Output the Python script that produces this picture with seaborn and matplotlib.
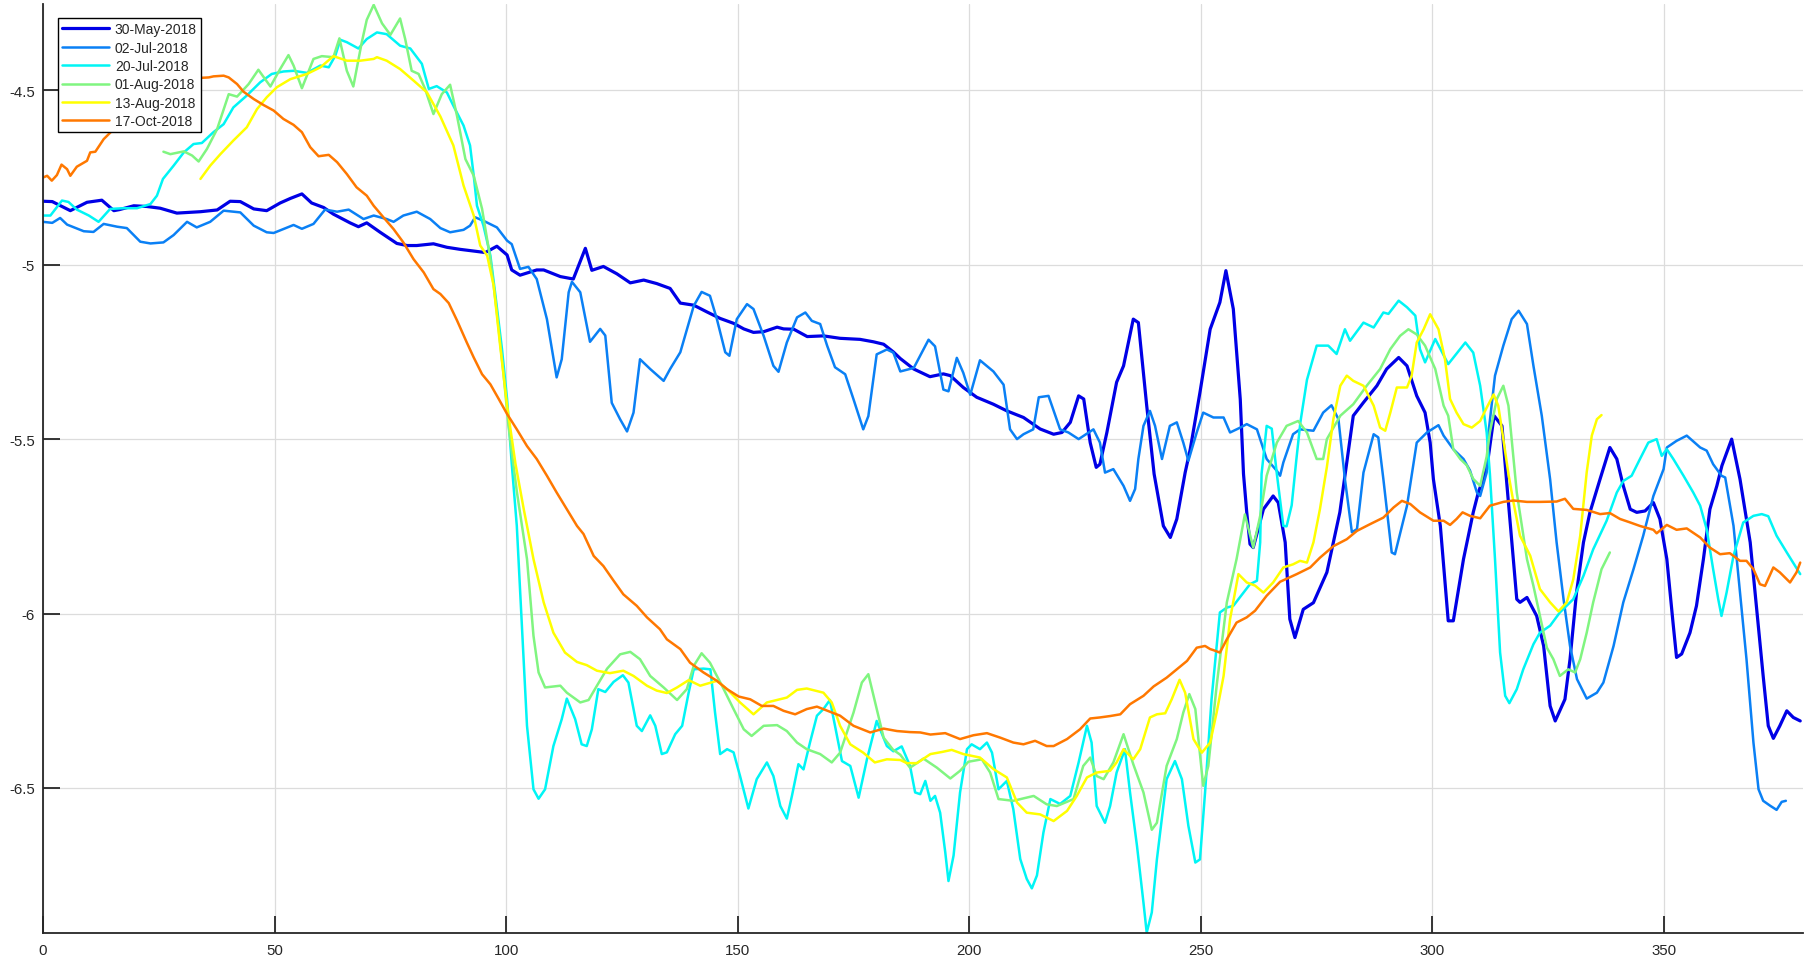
import pandas as pd
import seaborn as sns
import matplotlib.pyplot as plt
from matplotlib.ticker import FuncFormatter

# Series, (x, y) pairs
may30 = [(0,-4.818),(2,-4.819),(5.9,-4.845),(9.5,-4.821),(12.7,-4.815),(15.3,-4.845),(16.5,-4.842),(19.6,-4.831),(22.4,-4.833),(25.3,-4.838),(28.9,-4.852),(34,-4.848),(37.6,-4.843),(40.4,-4.818),(42.6,-4.819),(45.5,-4.840),(48.3,-4.845),(51.2,-4.823),(53.4,-4.81),(55.9,-4.797),(58,-4.823),(60.6,-4.836),(62.7,-4.855),(66.3,-4.88),(68.1,-4.891),(69.9,-4.88),(72.8,-4.907),(76.4,-4.939),(78.6,-4.945),(80.7,-4.945),(84.3,-4.94),(87.2,-4.95),(90.1,-4.956),(94.4,-4.963),(95.5,-4.965),(98,-4.947),(100.2,-4.972),(101.2,-5.015),(103,-5.03),(106.6,-5.015),(108.1,-5.015),(111.7,-5.034),(114.5,-5.041),(117.1,-4.953),(118.5,-5.016),(121,-5.005),(123.9,-5.026),(126.8,-5.052),(129.7,-5.044),(132.5,-5.054),(135.4,-5.068),(137.6,-5.11),(140.5,-5.116),(143.3,-5.135),(146.2,-5.154),(149.1,-5.168),(151.3,-5.184),(153.4,-5.194),(155.6,-5.192),(158.5,-5.179),(159.9,-5.184),(162.1,-5.185),(165,-5.206),(168.5,-5.204),(172.1,-5.211),(176.4,-5.214),(179.3,-5.221),(181.5,-5.228),(183.6,-5.25),(185.1,-5.269),(188,-5.299),(191.5,-5.321),(194.4,-5.313),(195.9,-5.318),(198.7,-5.352),(201.6,-5.38),(205.2,-5.4),(208.1,-5.419),(211.7,-5.438),(215.3,-5.471),(218.2,-5.486),(220,-5.481),(221.8,-5.452),(223.6,-5.376),(224.7,-5.385),(226.1,-5.51),(227.4,-5.581),(228.2,-5.572),(229.7,-5.481),(231.8,-5.337),(233.3,-5.29),(235.4,-5.156),(236.5,-5.166),(238.3,-5.404),(239.9,-5.6),(241.9,-5.749),(243.4,-5.782),(244.8,-5.729),(246.6,-5.596),(247.7,-5.529),(249.8,-5.366),(252,-5.185),(254.1,-5.108),(255.4,-5.017),(257,-5.127),(258.5,-5.386),(259.2,-5.6),(259.9,-5.71),(260.6,-5.801),(261.3,-5.811),(263.5,-5.701),(265.6,-5.663),(266.7,-5.682),(268.2,-5.796),(269.2,-6.016),(270.3,-6.069),(272.1,-5.988),(274.3,-5.969),(277.2,-5.882),(280,-5.71),(282.9,-5.433),(285.1,-5.395),(288,-5.347),(290.1,-5.299),(292.7,-5.266),(294.5,-5.29),(296.6,-5.376),(298.4,-5.424),(299.5,-5.51),(300.2,-5.615),(301.7,-5.749),(303.4,-6.021),(304.5,-6.021),(306.7,-5.844),(308.8,-5.71),(309.9,-5.653),(311.7,-5.586),(313.3,-5.433),(315,-5.462),(316,-5.62),(318.2,-5.959),(318.9,-5.968),(320.4,-5.954),(322.5,-6.007),(324,-6.093),(325.4,-6.265),(326.5,-6.308),(328.6,-6.246),(329.7,-6.131),(331.1,-5.94),(332.6,-5.796),(334,-5.71),(336.2,-5.614),(338.3,-5.524),(339.8,-5.557),(341.2,-5.634),(342.7,-5.701),(344.1,-5.71),(345.9,-5.706),(347.7,-5.682),(349.1,-5.729),(350.6,-5.844),(352,-6.035),(352.7,-6.126),(353.8,-6.116),(355.6,-6.055),(357,-5.978),(358.5,-5.844),(359.9,-5.701),(361.4,-5.634),(362.5,-5.576),(364.6,-5.5),(366.4,-5.615),(368.6,-5.796),(370,-5.988),(371.4,-6.179),(372.5,-6.322),(373.6,-6.358),(375,-6.322),(376.5,-6.279),(377.9,-6.298),(379.4,-6.308)]

jul02 = [(0,-4.877),(2,-4.88),(3.7,-4.866),(5.2,-4.885),(8.8,-4.904),(10.9,-4.906),(13.1,-4.883),(16,-4.891),(18.1,-4.895),(21,-4.934),(23.2,-4.939),(26,-4.936),(28.2,-4.915),(31.1,-4.877),(33.2,-4.893),(36.1,-4.877),(39,-4.845),(42.6,-4.85),(45.5,-4.888),(48.3,-4.907),(49.8,-4.909),(54.1,-4.886),(55.9,-4.897),(58.4,-4.883),(60.9,-4.842),(63.5,-4.848),(66,-4.842),(69.2,-4.869),(71.4,-4.859),(74.2,-4.869),(75.7,-4.877),(77.8,-4.859),(80.7,-4.848),(83.6,-4.869),(85.8,-4.895),(87.9,-4.907),(90.8,-4.9),(92.2,-4.888),(93.3,-4.864),(95.1,-4.874),(98,-4.893),(100.2,-4.931),(101.2,-4.941),(103,-5.012),(104.8,-5.006),(106.6,-5.041),(108.8,-5.156),(110.9,-5.323),(112,-5.271),(113.5,-5.079),(114.2,-5.049),(116,-5.079),(118.1,-5.221),(120.3,-5.184),(121.4,-5.203),(122.8,-5.396),(124.6,-5.443),(126.1,-5.478),(127.5,-5.424),(128.9,-5.271),(131.1,-5.299),(134,-5.333),(135.4,-5.299),(137.6,-5.251),(140.5,-5.118),(142.2,-5.078),(144,-5.089),(145.5,-5.156),(147.3,-5.251),(148.2,-5.261),(149.8,-5.156),(152,-5.113),(153.4,-5.127),(155.6,-5.204),(157.7,-5.29),(158.8,-5.307),(160.6,-5.223),(162.8,-5.151),(164.6,-5.137),(166,-5.161),(167.8,-5.17),(169.3,-5.232),(171,-5.294),(173.2,-5.314),(175,-5.386),(177.1,-5.472),(178.2,-5.434),(180,-5.257),(182.2,-5.243),(183.6,-5.252),(185.1,-5.306),(188,-5.296),(191.2,-5.215),(192.6,-5.234),(194.4,-5.358),(195.5,-5.363),(197.3,-5.267),(198.7,-5.31),(200.2,-5.373),(202.3,-5.274),(205.2,-5.306),(207.4,-5.344),(208.8,-5.472),(210.3,-5.5),(211.7,-5.486),(213.8,-5.472),(215,-5.38),(217.1,-5.376),(219.6,-5.472),(221.4,-5.481),(223.6,-5.5),(226.8,-5.472),(228.2,-5.51),(229.3,-5.596),(231.1,-5.586),(233.3,-5.634),(234.7,-5.677),(235.8,-5.643),(236.5,-5.557),(237.6,-5.462),(239,-5.419),(240.1,-5.462),(241.6,-5.557),(243.3,-5.462),(244.8,-5.452),(246.2,-5.51),(247.3,-5.562),(249.1,-5.481),(250.5,-5.424),(252.7,-5.438),(254.9,-5.438),(256.3,-5.481),(258.5,-5.467),(259.9,-5.457),(262.1,-5.472),(264.2,-5.557),(266.4,-5.591),(267.1,-5.605),(267.8,-5.567),(269.9,-5.486),(271.4,-5.472),(274.3,-5.476),(276.4,-5.424),(278.2,-5.403),(279.7,-5.443),(281.1,-5.615),(282.6,-5.767),(283.7,-5.758),(285.1,-5.596),(285.5,-5.576),(287.3,-5.486),(288.3,-5.495),(289.4,-5.615),(291.2,-5.825),(291.9,-5.83),(294.5,-5.691),(296.6,-5.51),(298.8,-5.481),(301.3,-5.46),(302.4,-5.49),(304.5,-5.529),(306.7,-5.557),(308.1,-5.59),(309.6,-5.653),(310.3,-5.663),(311.7,-5.596),(312.1,-5.481),(313.5,-5.318),(315.3,-5.232),(317.1,-5.156),(318.6,-5.132),(320.4,-5.17),(321.8,-5.29),(323.6,-5.433),(325.4,-5.615),(326.8,-5.796),(328.3,-5.959),(329.7,-6.093),(331.2,-6.188),(333.3,-6.244),(335.5,-6.227),(336.9,-6.198),(339.1,-6.093),(341.2,-5.968),(343.4,-5.873),(345.5,-5.777),(347.7,-5.663),(349.9,-5.586),(350.6,-5.524),(352.7,-5.505),(354.9,-5.49),(357.8,-5.524),(359.2,-5.533),(360.6,-5.572),(362.4,-5.605),(363.2,-5.61),(365,-5.749),(366.4,-5.94),(367.8,-6.131),(369.3,-6.37),(370.4,-6.504),(371.4,-6.537),(372.9,-6.551),(374.3,-6.563),(375.4,-6.54),(376.3,-6.537)]

jul20 = [(0,-4.859),(1.6,-4.859),(4.1,-4.816),(5.5,-4.82),(7.3,-4.842),(9.9,-4.859),(12,-4.877),(14.5,-4.84),(17.4,-4.838),(20.3,-4.838),(23.2,-4.826),(24.6,-4.802),(25.9,-4.754),(28.2,-4.716),(30.4,-4.678),(32.5,-4.654),(34.3,-4.651),(36.8,-4.62),(39,-4.597),(41.1,-4.549),(44,-4.515),(46.9,-4.477),(49.4,-4.453),(51.9,-4.446),(54.1,-4.444),(57,-4.45),(59.9,-4.429),(61.7,-4.434),(63.1,-4.401),(64.2,-4.355),(65.6,-4.362),(68.1,-4.38),(69.9,-4.353),(72.1,-4.334),(74.2,-4.339),(77.1,-4.372),(79.3,-4.38),(81.8,-4.424),(83.3,-4.496),(85,-4.488),(87.2,-4.506),(88.6,-4.544),(90.8,-4.601),(92.2,-4.658),(93,-4.745),(93.7,-4.831),(95.1,-4.888),(96.6,-4.974),(97.6,-5.079),(99.1,-5.242),(100.2,-5.385),(101.2,-5.57),(102.3,-5.749),(103.4,-6.035),(104.5,-6.322),(105.9,-6.504),(107,-6.531),(108.4,-6.504),(110.2,-6.38),(112,-6.303),(113.1,-6.244),(114.9,-6.303),(116.3,-6.375),(117.4,-6.38),(118.5,-6.332),(119.9,-6.217),(121.4,-6.225),(123.2,-6.196),(125.2,-6.177),(126.4,-6.198),(128.2,-6.322),(129.3,-6.337),(131.1,-6.292),(132.2,-6.322),(133.6,-6.403),(134.7,-6.398),(136.5,-6.346),(138,-6.322),(139.4,-6.227),(140.5,-6.16),(142.6,-6.158),(144.1,-6.16),(145.1,-6.284),(146.2,-6.403),(147.7,-6.389),(149.1,-6.398),(150.5,-6.466),(152.3,-6.559),(154.1,-6.475),(156.3,-6.427),(157.7,-6.466),(159.2,-6.552),(160.6,-6.588),(161.7,-6.523),(163.1,-6.432),(164.2,-6.447),(165.6,-6.37),(167.1,-6.293),(168.5,-6.274),(169.9,-6.248),(171,-6.322),(172.5,-6.423),(174.3,-6.437),(176.1,-6.528),(177.9,-6.418),(180,-6.308),(182.2,-6.38),(183.6,-6.395),(185.4,-6.381),(187.2,-6.437),(188.3,-6.513),(189.4,-6.518),(190.5,-6.48),(191.6,-6.537),(192.6,-6.523),(193.7,-6.571),(194.8,-6.684),(195.5,-6.767),(196.6,-6.694),(198,-6.513),(199.5,-6.389),(200.5,-6.375),(202.3,-6.389),(203.8,-6.37),(204.9,-6.399),(206.3,-6.504),(208.1,-6.48),(209.5,-6.561),(211,-6.704),(212.4,-6.761),(213.5,-6.788),(214.6,-6.751),(216,-6.628),(217.5,-6.532),(219.6,-6.546),(221.8,-6.523),(223.6,-6.427),(225.4,-6.322),(226.4,-6.37),(227.5,-6.552),(229.3,-6.6),(230.4,-6.552),(231.8,-6.456),(233.6,-6.389),(234.7,-6.513),(236.2,-6.666),(237.6,-6.829),(238.3,-6.915),(239.4,-6.857),(240.5,-6.705),(242.6,-6.475),(244.4,-6.423),(245.9,-6.475),(247.3,-6.609),(248.8,-6.714),(249.8,-6.705),(250.9,-6.513),(252.3,-6.246),(254.1,-5.997),(255.6,-5.983),(257,-5.978),(259.2,-5.94),(260.6,-5.916),(262.1,-5.906),(262.8,-5.796),(263.1,-5.6),(264.2,-5.462),(265.3,-5.47),(266.4,-5.6),(267.8,-5.749),(268.5,-5.75),(269.6,-5.69),(270.6,-5.56),(271.5,-5.45),(272.9,-5.33),(275,-5.232),(277.5,-5.232),(279.3,-5.256),(281.1,-5.185),(282.2,-5.218),(285.1,-5.166),(287.3,-5.18),(289.4,-5.137),(290.5,-5.141),(292.7,-5.103),(294.5,-5.122),(296.3,-5.146),(297.3,-5.242),(298.4,-5.28),(300.6,-5.213),(303.4,-5.285),(307.1,-5.223),(308.8,-5.252),(310.3,-5.347),(311.7,-5.481),(312.4,-5.6),(313.5,-5.844),(314.6,-6.112),(315.7,-6.236),(316.6,-6.257),(318.2,-6.217),(319.6,-6.16),(321.8,-6.088),(323.2,-6.055),(325.4,-6.035),(327.5,-5.997),(330.4,-5.959),(332.6,-5.892),(334.7,-5.816),(337.6,-5.734),(339.8,-5.653),(341.2,-5.62),(343,-5.605),(344.8,-5.557),(346.6,-5.51),(348.4,-5.5),(349.5,-5.548),(350.6,-5.529),(352,-5.557),(354.2,-5.605),(356.3,-5.653),(357.8,-5.691),(359.2,-5.758),(360.6,-5.873),(361.7,-5.959),(362.4,-6.007),(363.5,-5.94),(365,-5.834),(367.1,-5.739),(369.3,-5.72),(371.1,-5.715),(372.5,-5.721),(374.3,-5.777),(376.5,-5.825),(379.4,-5.887)]

aug01 = [(26,-4.676),(27.5,-4.683),(30.4,-4.675),(32.2,-4.687),(33.6,-4.704),(35.4,-4.668),(37.6,-4.611),(40.1,-4.511),(41.9,-4.518),(44.4,-4.482),(46.5,-4.441),(49.1,-4.489),(51.2,-4.439),(53,-4.399),(54.1,-4.429),(55.9,-4.494),(58.4,-4.41),(60.2,-4.402),(62.7,-4.405),(64,-4.351),(65.6,-4.444),(67,-4.489),(68.8,-4.364),(69.9,-4.298),(71.4,-4.255),(73.2,-4.308),(75,-4.341),(77.1,-4.294),(78.2,-4.353),(79.6,-4.444),(81.1,-4.453),(82.5,-4.496),(84.3,-4.568),(86.1,-4.511),(87.9,-4.484),(89.4,-4.574),(91.2,-4.697),(93,-4.745),(94.8,-4.84),(96.6,-4.984),(98,-5.137),(99.4,-5.309),(100.5,-5.462),(102.3,-5.65),(104.5,-5.844),(105.9,-6.064),(107,-6.169),(108.4,-6.212),(111.7,-6.207),(113.1,-6.227),(116,-6.255),(117.8,-6.248),(119.6,-6.207),(121.8,-6.158),(124.6,-6.117),(126.8,-6.11),(128.9,-6.131),(131.1,-6.179),(134,-6.212),(136.9,-6.248),(139,-6.217),(140.5,-6.15),(142.2,-6.114),(144,-6.141),(146.6,-6.207),(149.1,-6.274),(151.3,-6.332),(153,-6.351),(155.6,-6.322),(158.5,-6.32),(160.6,-6.337),(162.8,-6.37),(164.9,-6.389),(167.8,-6.403),(170.3,-6.427),(172.1,-6.399),(175,-6.284),(176.8,-6.198),(178.2,-6.174),(180,-6.274),(181.5,-6.356),(183.5,-6.39),(185.1,-6.405),(187.2,-6.442),(190.1,-6.416),(193,-6.442),(195.9,-6.473),(198,-6.451),(199.8,-6.425),(202.7,-6.418),(204.5,-6.456),(206.3,-6.532),(209.5,-6.537),(213.9,-6.523),(216.7,-6.547),(218.9,-6.552),(222.5,-6.532),(224.6,-6.437),(226.1,-6.413),(227.5,-6.466),(229,-6.475),(231.1,-6.427),(233.3,-6.346),(235.4,-6.432),(237.6,-6.513),(239.4,-6.62),(240.5,-6.6),(242.6,-6.437),(244.8,-6.36),(246.2,-6.284),(247.5,-6.231),(248.8,-6.274),(250.5,-6.494),(251.6,-6.437),(253.4,-6.207),(255.6,-5.968),(257.7,-5.844),(259.5,-5.716),(261.3,-5.811),(262.8,-5.72),(264.2,-5.605),(266.4,-5.51),(268.5,-5.462),(271,-5.448),(272.9,-5.481),(275,-5.557),(276.4,-5.557),(277.2,-5.5),(280.1,-5.433),(282.9,-5.4),(285.8,-5.347),(288.7,-5.299),(290.9,-5.242),(293,-5.204),(294.8,-5.185),(296.6,-5.2),(298.4,-5.232),(300.6,-5.299),(302.4,-5.404),(303.4,-5.433),(304.5,-5.529),(306,-5.557),(307.4,-5.575),(308.8,-5.614),(310.3,-5.634),(311.7,-5.55),(312.4,-5.48),(313.9,-5.385),(315.3,-5.347),(316.4,-5.404),(317.5,-5.557),(318.2,-5.653),(320.4,-5.844),(321.8,-5.921),(323.2,-6.007),(324.7,-6.098),(326.1,-6.131),(327.5,-6.179),(329.3,-6.16),(330.8,-6.169),(331.9,-6.131),(333.3,-6.055),(334.7,-5.968),(336.5,-5.873),(338.3,-5.825)]

aug13 = [(34,-4.754),(36.1,-4.716),(38.3,-4.683),(41.1,-4.644),(44,-4.606),(46.2,-4.554),(48.3,-4.52),(50.5,-4.491),(53.4,-4.468),(57,-4.453),(59.9,-4.434),(62.7,-4.402),(65.6,-4.415),(68.5,-4.415),(71.4,-4.41),(72.1,-4.405),(74.2,-4.415),(77.1,-4.439),(80,-4.472),(82.9,-4.506),(85.8,-4.575),(88.6,-4.658),(90.8,-4.773),(93,-4.859),(94.4,-4.945),(95.9,-4.974),(97.3,-5.06),(98.7,-5.232),(100.2,-5.404),(102,-5.57),(103.8,-5.701),(105.9,-5.844),(108.1,-5.968),(110.2,-6.055),(112.7,-6.112),(115.3,-6.139),(117.4,-6.148),(119.6,-6.164),(122.4,-6.171),(125.3,-6.164),(127.5,-6.179),(130.4,-6.207),(132.5,-6.221),(134.7,-6.228),(136.9,-6.212),(139.4,-6.191),(141.9,-6.207),(145.5,-6.193),(147.7,-6.217),(150.5,-6.255),(153.4,-6.289),(156.3,-6.255),(160.6,-6.241),(162.8,-6.219),(164.9,-6.215),(168.5,-6.227),(170.3,-6.255),(172.1,-6.322),(174.3,-6.375),(177.1,-6.399),(179.6,-6.427),(182.2,-6.418),(185.1,-6.42),(186.5,-6.429),(188.7,-6.429),(191.6,-6.403),(194.1,-6.397),(196.2,-6.391),(198.7,-6.403),(202.3,-6.413),(205.2,-6.446),(208.1,-6.47),(210.3,-6.542),(212.4,-6.571),(215.3,-6.576),(218.2,-6.595),(221.1,-6.566),(223.2,-6.523),(225.4,-6.47),(227.5,-6.456),(230.4,-6.451),(231.8,-6.427),(233.3,-6.389),(235.4,-6.418),(236.9,-6.389),(239,-6.298),(240.5,-6.289),(242.3,-6.286),(243.7,-6.246),(245.4,-6.19),(246.6,-6.227),(248.4,-6.36),(250.2,-6.399),(252,-6.37),(253.4,-6.284),(254.9,-6.179),(256.3,-6.016),(258.1,-5.887),(259.9,-5.911),(261.7,-5.92),(263.5,-5.94),(265.6,-5.911),(267.8,-5.868),(269.9,-5.859),(271.4,-5.849),(272.9,-5.854),(274.3,-5.796),(275.7,-5.701),(277.2,-5.58),(278.6,-5.443),(280.1,-5.347),(281.5,-5.318),(282.9,-5.333),(285.1,-5.347),(287.3,-5.404),(288.7,-5.467),(289.8,-5.476),(290.9,-5.424),(292.3,-5.352),(294.5,-5.352),(295.5,-5.318),(296.6,-5.223),(298.1,-5.185),(299.5,-5.142),(301.3,-5.185),(302.7,-5.271),(303.8,-5.385),(305.2,-5.424),(306.7,-5.457),(308.5,-5.467),(310.3,-5.448),(311.7,-5.41),(313.2,-5.372),(314.2,-5.404),(315.3,-5.5),(316.4,-5.6),(317.5,-5.682),(318.9,-5.777),(321.1,-5.834),(323.2,-5.93),(325.4,-5.968),(327.2,-5.994),(329,-5.968),(330.4,-5.902),(331.9,-5.777),(333.3,-5.595),(334.4,-5.49),(335.5,-5.443),(336.5,-5.431)]

oct17 = [(0,-4.75),(0.9,-4.745),(1.9,-4.759),(3,-4.743),(4,-4.713),(5.2,-4.726),(5.9,-4.745),(7.3,-4.719),(9.5,-4.702),(10.2,-4.678),(11.3,-4.676),(13.1,-4.64),(15.3,-4.611),(18,-4.58),(22,-4.54),(26,-4.505),(30,-4.475),(33,-4.465),(35.8,-4.463),(36.8,-4.46),(39,-4.458),(40.1,-4.463),(41.9,-4.482),(43.3,-4.504),(45.5,-4.525),(47.6,-4.542),(49.8,-4.558),(51.9,-4.582),(54.1,-4.599),(55.9,-4.62),(57.7,-4.663),(59.5,-4.689),(61.7,-4.685),(63.5,-4.706),(65.6,-4.74),(67.7,-4.778),(69.9,-4.802),(71.4,-4.831),(73.5,-4.864),(75.7,-4.898),(77.8,-4.936),(80,-4.984),(82.2,-5.022),(84.3,-5.07),(85.8,-5.084),(87.6,-5.11),(89.4,-5.16),(91.5,-5.223),(93,-5.266),(94.8,-5.314),(96.6,-5.343),(98.4,-5.385),(100.2,-5.428),(102.3,-5.472),(104.5,-5.52),(106.6,-5.557),(108.8,-5.605),(110.9,-5.653),(113.5,-5.71),(115.3,-5.749),(116.7,-5.772),(118.9,-5.835),(121,-5.864),(123.2,-5.906),(125.3,-5.945),(128.2,-5.978),(130.4,-6.011),(133.2,-6.045),(134.7,-6.074),(137.6,-6.102),(139.7,-6.141),(142.6,-6.169),(145.5,-6.193),(147.7,-6.217),(150.2,-6.238),(152.7,-6.246),(155.2,-6.265),(157.7,-6.265),(159.9,-6.279),(162.4,-6.289),(164.9,-6.274),(167.1,-6.267),(170,-6.282),(172.1,-6.293),(175,-6.322),(178.6,-6.341),(181.5,-6.33),(184.4,-6.337),(187.2,-6.34),(189.4,-6.341),(191.6,-6.347),(194.8,-6.343),(198,-6.36),(200.9,-6.349),(203.8,-6.343),(206.7,-6.356),(209.5,-6.37),(211.7,-6.375),(214.2,-6.365),(216.7,-6.38),(218.2,-6.38),(221.1,-6.36),(223.9,-6.332),(226.1,-6.301),(228.2,-6.298),(230.4,-6.294),(232.6,-6.289),(234.7,-6.26),(237.6,-6.236),(239.8,-6.209),(242.6,-6.184),(244.8,-6.16),(247,-6.136),(249.1,-6.098),(250.9,-6.093),(252,-6.102),(252.7,-6.105),(254.1,-6.112),(255.6,-6.074),(257.7,-6.026),(259.9,-6.011),(261.7,-5.992),(264.2,-5.949),(267.1,-5.909),(270.7,-5.887),(273.6,-5.868),(275.7,-5.84),(278.6,-5.807),(281.5,-5.787),(283.7,-5.763),(286.5,-5.744),(289.4,-5.725),(291.6,-5.696),(293.4,-5.677),(295.2,-5.686),(297.3,-5.71),(300.2,-5.734),(302.4,-5.734),(303.8,-5.746),(305.2,-5.729),(306.5,-5.71),(308.1,-5.72),(310.3,-5.727),(312.4,-5.691),(315.3,-5.68),(317.5,-5.676),(320.4,-5.68),(323.2,-5.68),(326.8,-5.679),(328.6,-5.671),(330.4,-5.7),(333.3,-5.703),(336.2,-5.715),(338.3,-5.712),(340.5,-5.729),(342.7,-5.739),(344.8,-5.749),(347.7,-5.76),(348.4,-5.77),(350.6,-5.746),(352.7,-5.76),(354.9,-5.756),(357.8,-5.782),(359.9,-5.811),(362.1,-5.83),(364.2,-5.827),(366.4,-5.849),(367.8,-5.849),(369.3,-5.873),(370.7,-5.916),(371.8,-5.921),(373.6,-5.868),(375,-5.882),(377.2,-5.911),(378.6,-5.882),(379.4,-5.854)]

labels = ["30-May-2018", "02-Jul-2018", "20-Jul-2018", "01-Aug-2018", "13-Aug-2018", "17-Oct-2018"]
series = [may30, jul02, jul20, aug01, aug13, oct17]
colors = ["#0000e6", "#0a80f5", "#00f5f5", "#80f580", "#ffff00", "#ff7800"]
widths = [2.3, 1.8, 1.8, 1.8, 1.8, 1.8]

sns.set_theme(style="whitegrid")
plt.rcParams['font.family'] = ['Liberation Sans', 'DejaVu Sans']

fig, ax = plt.subplots(figsize=(18.04, 9.62), dpi=100)
fig.subplots_adjust(left=43/1804, right=1803/1804, bottom=28/962, top=957/962)

for pts, lab, col, lw in zip(series, labels, colors, widths):
    d = pd.DataFrame(pts, columns=["x", "y"])
    sns.lineplot(data=d, x="x", y="y", color=col, linewidth=lw, label=lab,
                 sort=False, estimator=None, ax=ax)

ax.set_xlim(0, 380)
ax.set_ylim(-6.916, -4.2525)
ax.set_xticks(range(0, 351, 50))
ax.set_yticks([-6.5, -6, -5.5, -5, -4.5])
ax.yaxis.set_major_formatter(FuncFormatter(lambda v, p: f"{v:g}"))
ax.set_xlabel("")
ax.set_ylabel("")

ax.grid(True, color="#dcdcdc", linewidth=0.9)
for s in ["top", "right"]:
    ax.spines[s].set_visible(False)
for s in ["left", "bottom"]:
    ax.spines[s].set_color("#262626")
    ax.spines[s].set_linewidth(1.3)
ax.tick_params(direction="in", length=12, width=1.3, color="#262626",
               labelsize=10.8, labelcolor="#262626", left=True, bottom=True)
ax.tick_params(axis="y", pad=6)
ax.tick_params(axis="x", pad=7)

leg = ax.legend(loc="upper left", bbox_to_anchor=(0.0085, 0.985), fontsize=10,
                frameon=True, fancybox=False, framealpha=1, edgecolor="black",
                handlelength=3.4, labelspacing=0.32, borderpad=0.3,
                handletextpad=0.4, borderaxespad=0)
leg.get_frame().set_linewidth(1.0)

plt.savefig("out.png", dpi=100)
